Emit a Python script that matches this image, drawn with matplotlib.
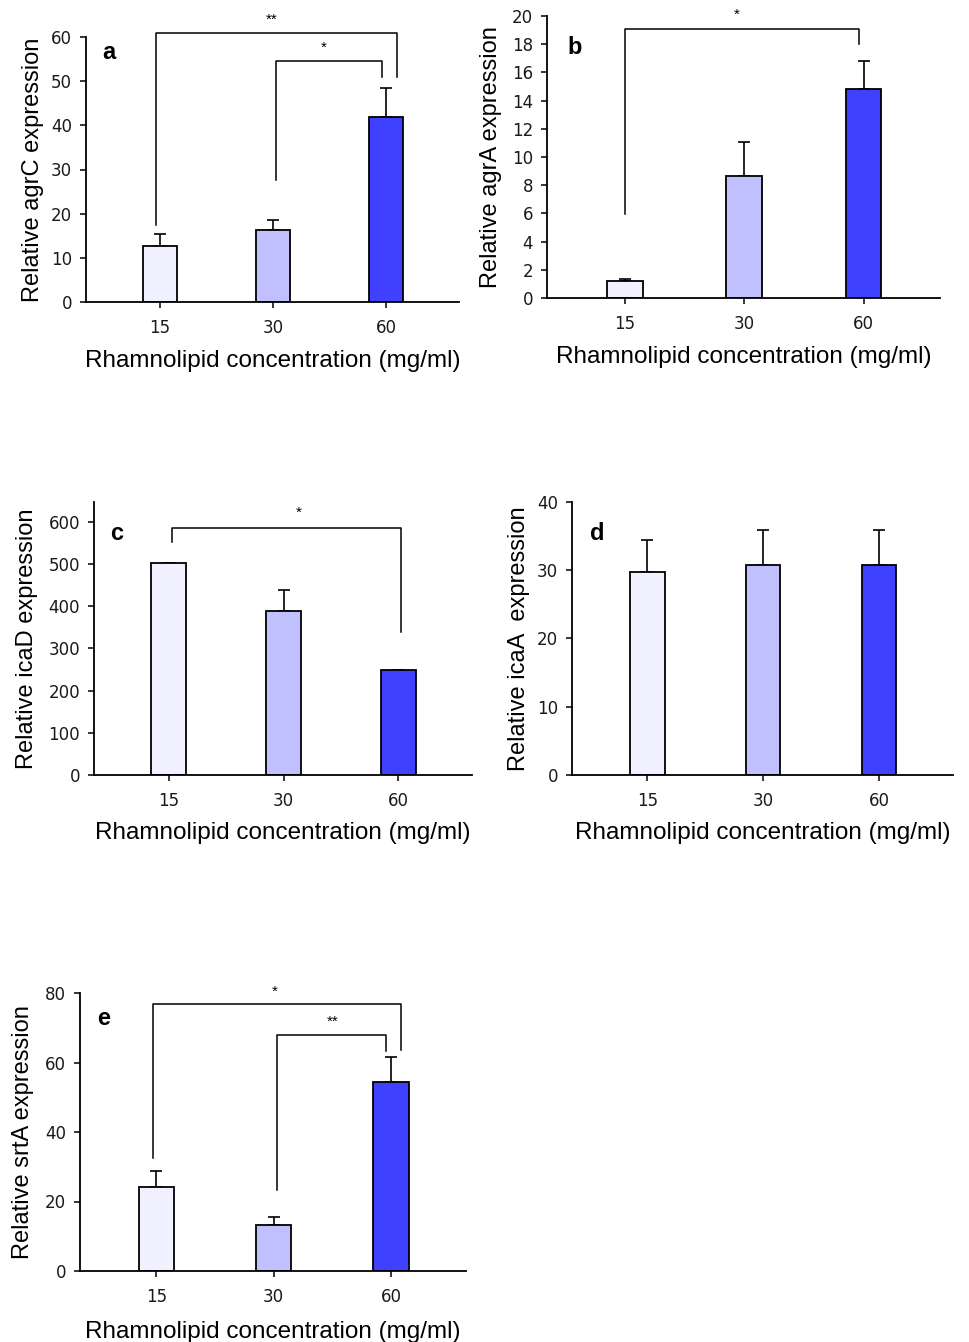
import matplotlib
matplotlib.use("Agg")
import matplotlib.pyplot as plt

plt.rcParams['font.family'] = ['Liberation Sans', 'DejaVu Sans']

conc = ['15', '30', '60']
colors = ['#f0f0ff', '#c0c0ff', '#4040ff']

agrC = [12.6, 16.2, 41.9]
agrC_err = [2.8, 2.4, 6.6]
agrA = [1.23, 8.68, 14.83]
agrA_err = [0.11, 2.35, 2.0]
icaD = [502, 388, 248]
icaD_err = [0, 51, 0]
icaA = [29.7, 30.7, 30.7]
icaA_err = [4.7, 5.2, 5.2]
srtA = [24.3, 13.1, 54.3]
srtA_err = [4.5, 2.5, 7.2]

W, H = 969, 1342
fig = plt.figure(figsize=(W / 100, H / 100), dpi=100)

def px_axes(l, r, t, b):
    return fig.add_axes([l / W, 1 - b / H, (r - l) / W, (b - t) / H])

def bracket(ax, x1, x2, y, y1, y2, star, sx, sy):
    ax.plot([x1, x1, x2, x2], [y1, y, y, y2], color='black', lw=1.1, clip_on=False)
    ax.text(sx, sy, star, ha='center', va='center', fontsize=11, clip_on=False)

panels = [
    # rect (px), values, errors, ylim, ticks, ylabel, letter, letter pos, ylabel x, xlabel y
    ((86, 459, 37, 302), agrC, agrC_err, 60, range(0, 61, 10), 'Relative agrC expression', 'a', (0.06, 0.943), -0.112, -0.18),
    ((547, 940, 16, 298), agrA, agrA_err, 20, range(0, 21, 2), 'Relative agrA expression', 'b', (0.07, 0.887), -0.114, -0.17),
    ((94, 472, 502, 775), icaD, icaD_err, 647, range(0, 601, 100), 'Relative icaD expression', 'c', (0.06, 0.886), -0.148, -0.172),
    ((572, 953, 502, 775), icaA, icaA_err, 40, range(0, 41, 10), 'Relative icaA  expression', 'd', (0.066, 0.886), -0.111, -0.172),
    ((80, 466, 993, 1271), srtA, srtA_err, 80, range(0, 81, 20), 'Relative srtA expression', 'e', (0.06, 0.91), -0.12, -0.18),
]

axes = []
for rect, vals, errs, ymax, ticks, ylab, letter, lpos, ylx, xly in panels:
    ax = px_axes(*rect)
    x = list(range(len(conc)))
    ax.bar(x, vals, width=0.3, color=colors, edgecolor='black', linewidth=1.3, zorder=2)
    ax.errorbar(x, vals, yerr=[[0] * len(errs), errs], fmt='none', ecolor='black',
                elinewidth=1.2, capsize=4, capthick=1.2, zorder=1)
    ax.set_xlim(-0.65, 2.64)
    ax.set_ylim(0, ymax)
    ax.set_xticks(x)
    ax.set_xticklabels(conc)
    ax.set_yticks(list(ticks))
    ax.spines['top'].set_visible(False)
    ax.spines['right'].set_visible(False)
    for s in ['left', 'bottom']:
        ax.spines[s].set_linewidth(1.3)
    ax.tick_params(axis='both', direction='out', length=4, width=1.1, labelsize=12,
                   labelcolor='#1a1a1a')
    ax.tick_params(axis='x', pad=8)
    ax.tick_params(axis='y', pad=6)
    for lab in ax.get_xticklabels() + ax.get_yticklabels():
        lab.set_family('DejaVu Sans')
    ax.set_ylabel(ylab, fontsize=17)
    ax.yaxis.set_label_coords(ylx, 0.5)
    ax.set_xlabel('Rhamnolipid concentration (mg/ml)', fontsize=17.5)
    ax.xaxis.set_label_coords(0.5, xly)
    ax.text(lpos[0], lpos[1], letter, transform=ax.transAxes, fontsize=17,
            fontweight='bold', ha='center', va='center')
    axes.append(ax)

ax_a, ax_b, ax_c, ax_d, ax_e = axes
bracket(ax_a, -0.03, 2.09, 60.9, 17.5, 50.9, '**', 0.99, 63.8)
bracket(ax_a, 1.03, 1.96, 54.5, 27.7, 50.9, '*', 1.45, 57.5)
bracket(ax_b, 0.0, 1.96, 19.06, 5.97, 18.04, '*', 0.94, 20.1)
bracket(ax_c, 0.03, 2.02, 586, 552, 340, '*', 1.13, 621)
bracket(ax_e, -0.03, 2.09, 76.7, 32.5, 63.5, '*', 1.01, 80.3)
bracket(ax_e, 1.03, 1.96, 68.0, 23.3, 63.3, '**', 1.50, 71.7)

fig.savefig('out.png', dpi=100)
